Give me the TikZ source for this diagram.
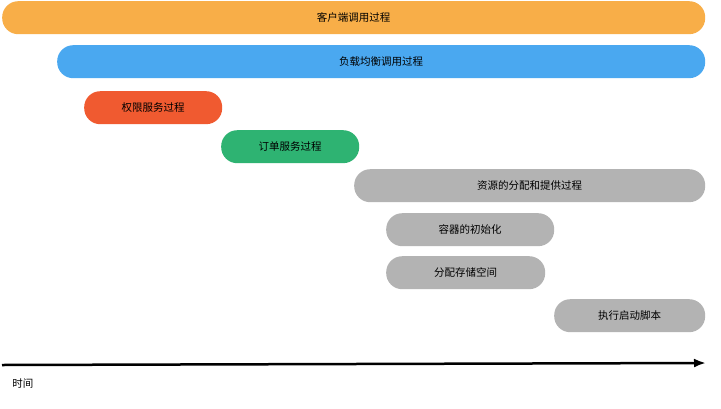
\documentclass[tikz,border=0pt]{standalone}
\usepackage{fontspec}
\setmainfont{Noto Sans CJK SC}
\usetikzlibrary{arrows.meta}
\definecolor{barorange}{HTML}{F8AE48}
\definecolor{barblue}{HTML}{4AA8F0}
\definecolor{barred}{HTML}{F05A30}
\definecolor{bargreen}{HTML}{2EB372}
\definecolor{bargray}{HTML}{B3B3B3}
\tikzset{
    bar/.style={rounded corners=16pt, minimum height=33pt, inner sep=0pt, font=\fontsize{10.5pt}{12pt}\selectfont, text=black}
}
\begin{document}
\begin{tikzpicture}[x=1pt,y=-1pt]
\useasboundingbox (0,0) rectangle (721,408);

% Bars (left edge, top, width, label)
\node[bar, fill=barorange, minimum width=703pt, anchor=north west] (client) at (2,1) {客户端调用过程};
\node[bar, fill=barblue, minimum width=648pt, anchor=north west] (balance) at (57,45) {负载均衡调用过程};
\node[bar, fill=barred, minimum width=138pt, anchor=north west] (auth) at (84,91) {权限服务过程};
\node[bar, fill=bargreen, minimum width=138pt, anchor=north west] (order) at (221,130) {订单服务过程};
\node[bar, fill=bargray, minimum width=351pt, anchor=north west] (resource) at (354,169) {资源的分配和提供过程};
\node[bar, fill=bargray, minimum width=168pt, anchor=north west] (container) at (386,213) {容器的初始化};
\node[bar, fill=bargray, minimum width=159pt, anchor=north west] (storage) at (386,256) {分配存储空间};
\node[bar, fill=bargray, minimum width=151pt, anchor=north west] (script) at (554,299) {执行启动脚本};

% Time axis
\coordinate (tstart) at (2,365);
\coordinate (tend) at (706,363);
\draw[line width=2.5pt, -{Latex[length=12pt,width=9pt]}] (tstart) -- (tend);
\node[font=\fontsize{10.5pt}{12pt}\selectfont] (time) at (23,384) {时间};
\end{tikzpicture}
\end{document}
